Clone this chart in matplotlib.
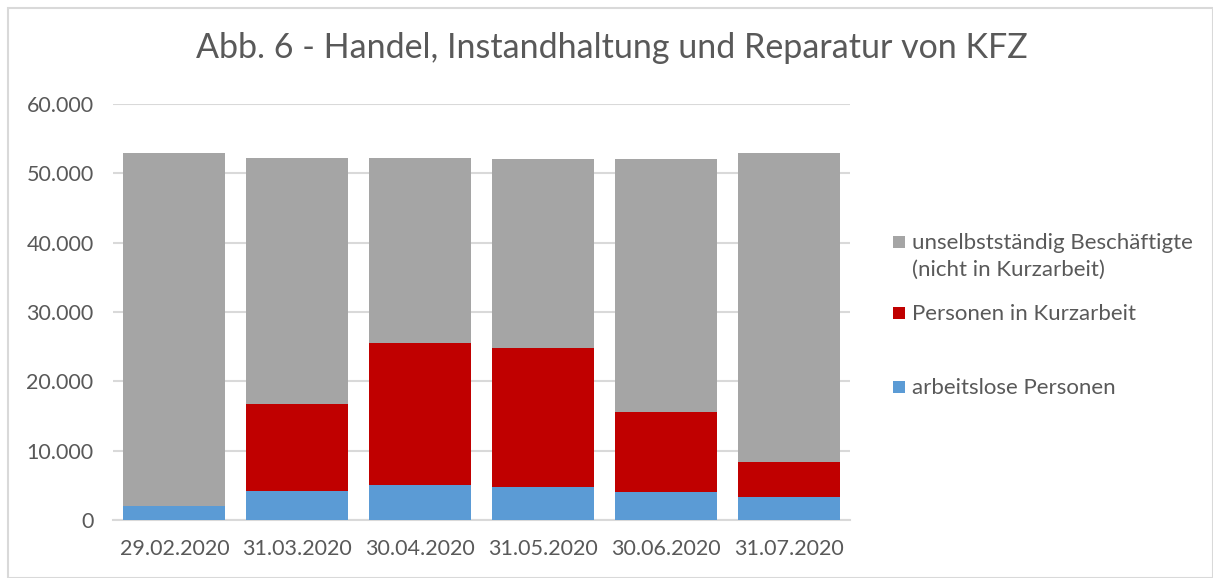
import matplotlib
matplotlib.use("Agg")
import matplotlib.pyplot as plt
from matplotlib.patches import Rectangle
from matplotlib.ticker import FuncFormatter
import numpy as np

categories = ["29.02.2020", "31.03.2020", "30.04.2020", "31.05.2020", "30.06.2020", "31.07.2020"]
arbeitslos = [2050, 4230, 5000, 4800, 4080, 3320]
kurzarbeit = [0, 12470, 20500, 20000, 11460, 5010]
totals = [52930, 52170, 52170, 52020, 52020, 52890]
beschaeftigt = [t - a - k for t, a, k in zip(totals, arbeitslos, kurzarbeit)]

labels = ["unselbstständig Beschäftigte\n(nicht in Kurzarbeit)", "Personen in Kurzarbeit", "arbeitslose Personen"]
c_grey, c_red, c_blue = "#A5A5A5", "#C00000", "#5B9BD5"
txt = "#595959"
grid_c = "#D9D9D9"

plt.rcParams['font.family'] = ['Lato', 'DejaVu Sans']

fig = plt.figure(figsize=(12.13, 5.78), dpi=100)
ax = fig.add_axes([113/1213, (578-520)/578, (850-113)/1213, (520-104)/578])

x = np.arange(len(categories))
w = 0.83
ax.bar(x, arbeitslos, w, color=c_blue, edgecolor="none", zorder=3)
ax.bar(x, kurzarbeit, w, bottom=arbeitslos, color=c_red, edgecolor="none", zorder=3)
b2 = [a + k for a, k in zip(arbeitslos, kurzarbeit)]
ax.bar(x, beschaeftigt, w, bottom=b2, color=c_grey, edgecolor="none", zorder=3)

ax.set_ylim(0, 60000)
ax.set_xlim(-0.5, len(categories) - 0.5)
ax.set_yticks(np.arange(0, 60001, 10000))
ax.yaxis.set_major_formatter(FuncFormatter(lambda v, p: f"{int(v):,}".replace(",", ".")))
ax.set_xticks(x)
ax.set_xticklabels(categories)
ax.grid(axis="y", color=grid_c, lw=1.5, zorder=0)
for s in ["top", "right", "left"]:
    ax.spines[s].set_visible(False)
ax.spines["bottom"].set_color(grid_c)
ax.spines["bottom"].set_linewidth(1.5)
ax.tick_params(axis="both", length=0, labelsize=15.5, colors=txt)
ax.tick_params(axis="y", pad=14)
ax.tick_params(axis="x", pad=14)

fig.text(612/1213, 1 - 48/578, "Abb. 6 - Handel, Instandhaltung und Reparatur von KFZ",
         ha="center", va="center", fontsize=24.5, color=txt)

# legend
items = [(c_grey, 243, labels[0]), (c_red, 314, labels[1]), (c_blue, 388, labels[2])]
for col, yc, lab in items:
    fig.patches.append(Rectangle((893/1213, 1 - (yc + 5)/578), 12/1213, 12/578,
                                 transform=fig.transFigure, facecolor=col, edgecolor="none"))
    fig.text(912/1213, 1 - (yc - 10)/578, lab, ha="left", va="top", fontsize=16,
             color=txt, linespacing=1.42)

fig.patches.append(Rectangle((8/1213, 0), 1 - 8/1213, 1 - 8/578, transform=fig.transFigure,
                             facecolor="none", edgecolor=grid_c, lw=1.5))

fig.savefig("out.png", dpi=100, facecolor="white")
